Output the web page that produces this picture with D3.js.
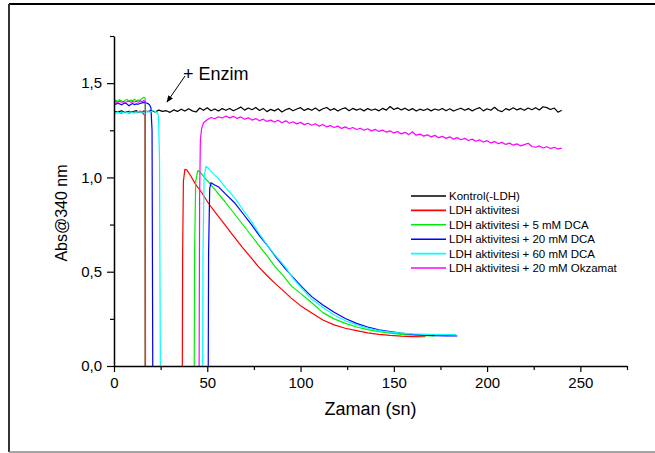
<!DOCTYPE html>
<html>
<head>
<meta charset="utf-8">
<script src="https://cdn.jsdelivr.net/npm/d3@7"></script>
<style>
  body { margin: 0; background: #fff; }
  text { font-family: "Liberation Sans", Arial, sans-serif; fill: #000; }
</style>
</head>
<body>
<svg id="chart" width="655" height="453"></svg>
<script>
// ---- data ----
const seriesNames = [
    "Kontrol(-LDH)",
    "LDH aktivitesi",
    "LDH aktivitesi + 5 mM DCA",
    "LDH aktivitesi + 20 mM DCA",
    "LDH aktivitesi + 60 mM DCA",
    "LDH aktivitesi + 20 mM Okzamat"
];
const seriesColors = ["#000000", "#ff0000", "#00ee00", "#0000ff", "#00ffff", "#ff00ff"];
const xTicks = [0, 50, 100, 150, 200, 250];
const xMinorTicks = [25, 75, 125, 175, 225, 275];
const yTicks = [0, 0.5, 1.0, 1.5];
const yMinorTicks = [0.25, 0.75, 1.25, 1.75];

// control, sampled every 2 s from 0 to 240 s
const kontrolStep = 2;
const kontrolAbs = [
    1.350, 1.346, 1.353, 1.345, 1.351, 1.348, 1.354, 1.344, 1.352, 1.349,
    1.355, 1.347, 1.357, 1.350, 1.354, 1.345, 1.358, 1.350, 1.362, 1.352,
    1.364, 1.353, 1.347, 1.368, 1.356, 1.369, 1.354, 1.363, 1.352, 1.365,
    1.356, 1.366, 1.354, 1.363, 1.373, 1.357, 1.368, 1.359, 1.371, 1.355,
    1.366, 1.349, 1.361, 1.353, 1.364, 1.347, 1.359, 1.366, 1.354, 1.363,
    1.370, 1.355, 1.365, 1.356, 1.368, 1.353, 1.364, 1.371, 1.356, 1.365,
    1.352, 1.363, 1.369, 1.354, 1.366, 1.357, 1.364, 1.353, 1.365, 1.356,
    1.363, 1.353, 1.366, 1.357, 1.376, 1.360, 1.369, 1.358, 1.367, 1.355,
    1.365, 1.352, 1.362, 1.355, 1.364, 1.353, 1.363, 1.356, 1.366, 1.354,
    1.364, 1.352, 1.360, 1.367, 1.356, 1.365, 1.353, 1.363, 1.370, 1.353,
    1.364, 1.356, 1.372, 1.355, 1.349, 1.365, 1.357, 1.369, 1.358, 1.366,
    1.356, 1.368, 1.359, 1.370, 1.358, 1.375, 1.370, 1.360, 1.368, 1.346,
    1.356
];

// plateaus before the enzyme is added, sampled every 1 s from 0 s
const ldhStart = [1.345, 1.342, 1.348, 1.344, 1.340, 1.346, 1.343, 1.349, 1.341,
    1.345, 1.347, 1.342, 1.350, 1.344, 1.352, 1.346, 1.334];
const dca5Start = [1.405, 1.410, 1.402, 1.412, 1.406, 1.399, 1.409, 1.413, 1.404,
    1.410, 1.407, 1.415, 1.405, 1.411, 1.408, 1.418, 1.425];
const dca20Start = [1.392, 1.388, 1.394, 1.390, 1.385, 1.391, 1.395, 1.389, 1.380,
    1.387, 1.392, 1.386, 1.390, 1.388, 1.393, 1.395, 1.398, 1.396, 1.393, 1.385];
const dca60Start = [1.348, 1.343, 1.346, 1.341, 1.347, 1.344, 1.349, 1.342, 1.345,
    1.348, 1.343, 1.347, 1.344, 1.350, 1.345, 1.348, 1.343, 1.347, 1.352, 1.346,
    1.349, 1.355, 1.350, 1.345];
const okzStart = [1.398, 1.402, 1.396, 1.404, 1.399, 1.403, 1.397, 1.401, 1.405,
    1.398, 1.402, 1.400, 1.404, 1.399, 1.406, 1.401, 1.408];

// drop after mixing, then the recorded decay  [time s, absorbance]
const ldhDecay = [[16.6, 1.33], [16.7, -0.1], [36.6, -0.1], [36.8, 0.6], [37.2, 0.98],
    [38, 1.043], [39, 1.04], [41, 1.01], [43.4, 0.969], [47, 0.92], [50.6, 0.863],
    [55, 0.805], [59.5, 0.748], [64, 0.69], [68.5, 0.633], [73, 0.58], [77.4, 0.527],
    [82, 0.48], [86.3, 0.438], [91, 0.397], [95, 0.36], [100, 0.32], [106, 0.281],
    [112, 0.244], [118, 0.218], [124, 0.2], [130, 0.188], [136, 0.176], [142, 0.168],
    [148, 0.162], [154, 0.158], [160, 0.156], [167, 0.155]];
const dca5Decay = [[16.7, 1.42], [16.8, -0.1], [43.0, -0.1], [43.2, 0.6], [43.8, 0.98],
    [44.9, 1.036], [46, 1.03], [48, 1.005], [50.6, 0.977], [55, 0.925], [59.5, 0.871],
    [64, 0.814], [68.5, 0.757], [73, 0.70], [77.4, 0.642], [82, 0.585], [86.3, 0.527],
    [91, 0.475], [95, 0.425], [100, 0.385], [106, 0.335], [112, 0.283], [118, 0.25],
    [124, 0.226], [130, 0.207], [136, 0.193], [142, 0.182], [148, 0.174], [154, 0.168],
    [160, 0.164], [166, 0.161], [172, 0.16]];
const dca20Decay = [[19.8, 1.37], [20.4, 1.25], [20.8, -0.1], [50.5, -0.1], [50.7, 0.6],
    [51.3, 0.94], [52, 0.972], [54, 0.96], [55.9, 0.951], [60, 0.91], [64.9, 0.863],
    [69, 0.81], [73.8, 0.748], [78, 0.69], [82.7, 0.633], [87, 0.575], [91.7, 0.518],
    [96, 0.47], [101.5, 0.412], [106, 0.368], [112, 0.323], [118, 0.285], [124, 0.252],
    [130, 0.226], [136, 0.207], [142, 0.192], [148, 0.182], [154, 0.174], [160, 0.168],
    [166, 0.164], [172, 0.161], [178, 0.16], [184, 0.159]];
const dca60Decay = [[23.8, 1.33], [24.4, 1.1], [24.9, -0.1], [47.5, -0.1], [47.7, 0.6],
    [48.3, 1.0], [49.3, 1.06], [51, 1.045], [53, 1.02], [55.9, 0.995], [60, 0.945],
    [64.9, 0.889], [69, 0.83], [73.8, 0.765], [78, 0.70], [82.7, 0.633], [87, 0.58],
    [91.7, 0.527], [96, 0.465], [101.5, 0.403], [106, 0.355], [112, 0.31], [118, 0.27],
    [124, 0.24], [130, 0.218], [136, 0.2], [142, 0.188], [148, 0.18], [154, 0.174],
    [160, 0.17], [168, 0.168], [176, 0.167], [183.5, 0.167]];
const okzRise = [[16.8, 1.40], [16.9, -0.1], [45.6, -0.1], [45.9, 0.9], [46.3, 1.2],
    [47, 1.26], [48, 1.29]];
// oxamate after recovery, every 2 s from 50 s to 240 s
const okzStep = 2;
const okzFrom = 50;
const okzAbs = [
    1.306, 1.318, 1.311, 1.322, 1.315, 1.326, 1.316, 1.324, 1.313, 1.321,
    1.309, 1.316, 1.304, 1.312, 1.301, 1.309, 1.297, 1.304, 1.294, 1.303,
    1.290, 1.300, 1.287, 1.295, 1.284, 1.292, 1.280, 1.287, 1.277, 1.285,
    1.272, 1.281, 1.268, 1.275, 1.265, 1.272, 1.260, 1.268, 1.257, 1.265,
    1.254, 1.261, 1.250, 1.258, 1.247, 1.255, 1.244, 1.251, 1.240, 1.247,
    1.236, 1.243, 1.231, 1.239, 1.227, 1.242, 1.224, 1.230, 1.219, 1.226,
    1.215, 1.223, 1.211, 1.218, 1.207, 1.215, 1.203, 1.211, 1.200, 1.207,
    1.196, 1.203, 1.192, 1.199, 1.188, 1.195, 1.183, 1.190, 1.179, 1.186,
    1.175, 1.182, 1.171, 1.178, 1.167, 1.174, 1.181, 1.164, 1.160, 1.167,
    1.156, 1.163, 1.153, 1.160, 1.151, 1.155
];

// ---- build series ----
const perSecond = arr => arr.map((v, i) => [i, v]);
const series = [
    kontrolAbs.map((v, i) => [i * kontrolStep, v]),
    perSecond(ldhStart).concat(ldhDecay),
    perSecond(dca5Start).concat(dca5Decay),
    perSecond(dca20Start).concat(dca20Decay),
    perSecond(dca60Start).concat(dca60Decay),
    perSecond(okzStart).concat(okzRise, okzAbs.map((v, i) => [okzFrom + i * okzStep, v]))
];

// ---- chart ----
const svg = d3.select('#chart');
const plot = { left: 114, right: 627, top: 36, bottom: 366 };

const x = d3.scaleLinear().domain([0, 275]).range([plot.left, plot.right]);
const y = d3.scaleLinear().domain([0, 1.75]).range([plot.bottom, plot.top]);

// outer frame
svg.append('line').attr('x1', 9).attr('x2', 655).attr('y1', 4).attr('y2', 4)
    .attr('stroke', '#000').attr('stroke-width', 2);
svg.append('line').attr('x1', 9).attr('x2', 9).attr('y1', 4).attr('y2', 452)
    .attr('stroke', '#333').attr('stroke-width', 2);
svg.append('line').attr('x1', 9).attr('x2', 655).attr('y1', 452).attr('y2', 452)
    .attr('stroke', '#888').attr('stroke-width', 1.5);

svg.append('clipPath').attr('id', 'plot-clip')
    .append('rect').attr('x', plot.left).attr('y', plot.top)
    .attr('width', plot.right - plot.left).attr('height', plot.bottom - plot.top);

const line = d3.line()
    .x(d => x(d[0]))
    .y(d => y(d[1]));

svg.append('g').attr('clip-path', 'url(#plot-clip)')
    .selectAll('path')
    .data(series)
    .join('path')
    .attr('d', line)
    .attr('fill', 'none')
    .attr('stroke', (d, i) => seriesColors[i])
    .attr('stroke-width', 1.2)
    .attr('stroke-linejoin', 'round');

// axes
const comma = d => d3.format('.1f')(d).replace('.', ',');

const xAxis = svg.append('g').attr('transform', `translate(0,${plot.bottom})`)
    .call(d3.axisBottom(x).tickValues(xTicks).tickSize(6).tickSizeOuter(0).tickPadding(5));
svg.append('g').attr('transform', `translate(0,${plot.bottom})`)
    .call(d3.axisBottom(x).tickValues(xMinorTicks).tickSize(4).tickFormat(''))
    .select('.domain').remove();

const yAxis = svg.append('g').attr('transform', `translate(${plot.left},0)`)
    .call(d3.axisLeft(y).tickValues(yTicks).tickSize(7).tickSizeOuter(0).tickPadding(5).tickFormat(comma));
svg.append('g').attr('transform', `translate(${plot.left},0)`)
    .call(d3.axisLeft(y).tickValues(yMinorTicks).tickSize(4).tickFormat(''))
    .select('.domain').remove();

svg.selectAll('.domain').attr('stroke', '#000').attr('stroke-width', 1.5);
svg.selectAll('.tick line').attr('stroke', '#000').attr('stroke-width', 1.2);
xAxis.selectAll('text').style('font-size', '15px').attr('font-family', null);
yAxis.selectAll('text').style('font-size', '15px').attr('font-family', null);

// axis titles
svg.append('text')
    .attr('x', (plot.left + plot.right) / 2)
    .attr('y', 415)
    .attr('text-anchor', 'middle')
    .style('font-size', '18px')
    .text('Zaman (sn)');

svg.append('text')
    .attr('transform', 'translate(67,213) rotate(-90)')
    .attr('text-anchor', 'middle')
    .style('font-size', '16px')
    .text('Abs@340 nm');

// enzyme annotation
svg.append('defs').append('marker')
    .attr('id', 'arrow-head')
    .attr('viewBox', '0 0 10 10')
    .attr('refX', 9).attr('refY', 5)
    .attr('markerWidth', 7).attr('markerHeight', 7)
    .attr('orient', 'auto')
    .append('path')
    .attr('d', 'M0,1 L10,5 L0,9 Z')
    .attr('fill', '#000');

svg.append('line')
    .attr('x1', 185).attr('y1', 76)
    .attr('x2', 167).attr('y2', 102)
    .attr('stroke', '#000').attr('stroke-width', 1)
    .attr('marker-end', 'url(#arrow-head)');

svg.append('text')
    .attr('x', 183).attr('y', 80)
    .style('font-size', '18px')
    .text('+ Enzim');

// legend
const legend = svg.append('g').attr('transform', 'translate(411,196)');
const rows = legend.selectAll('g')
    .data(seriesNames)
    .join('g')
    .attr('transform', (d, i) => `translate(0,${i * 14.4})`);
rows.append('line')
    .attr('x1', 0).attr('x2', 35)
    .attr('stroke', (d, i) => seriesColors[i])
    .attr('stroke-width', 1.6);
rows.append('text')
    .attr('x', 38).attr('y', 4)
    .style('font-size', '11.5px')
    .text(d => d);
</script>
</body>
</html>
